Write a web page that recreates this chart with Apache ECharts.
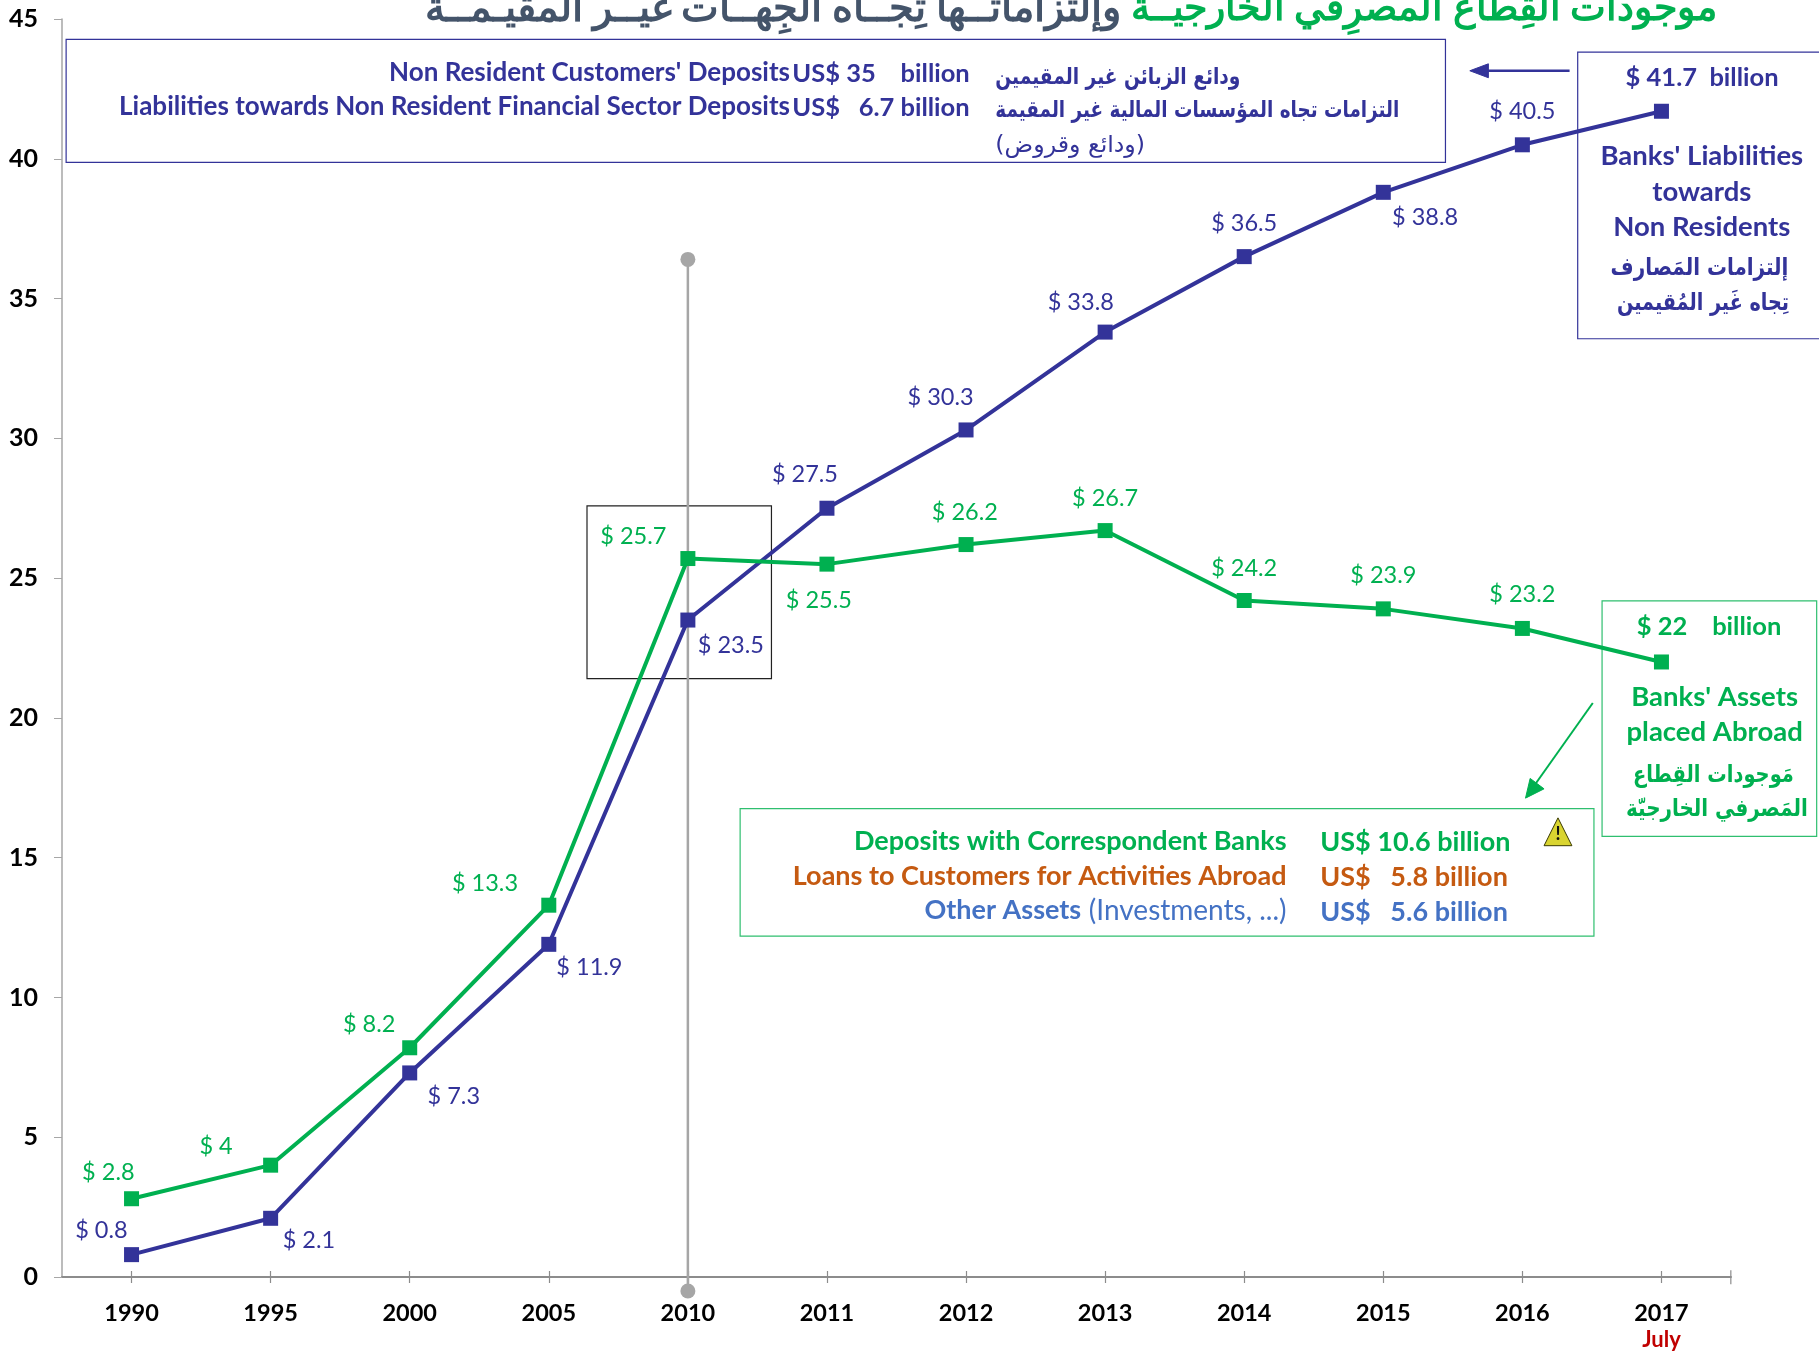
<!DOCTYPE html>
<html><head><meta charset="utf-8">
<style>html,body{margin:0;padding:0;background:#fff;overflow:hidden}#c{width:1819px;height:1351px}</style>
<script src="https://cdn.jsdelivr.net/npm/echarts@6/dist/echarts.min.js"></script></head>
<body><div id="c"></div>
<script>
const categories = ['1990','1995','2000','2005','2010','2011','2012','2013','2014','2015','2016','2017'];
const liabilities = [0.8,2.1,7.3,11.9,23.5,27.5,30.3,33.8,36.5,38.8,40.5,41.7];
const assets = [2.8,4,8.2,13.3,25.7,25.5,26.2,26.7,24.2,23.9,23.2,22];
const yTicks = {min:0,max:45,interval:5};
const markerSpan = [4,36.4,-0.5];
const liabOffsets = [[-26,-21],[33,19],[38,20],[35,20],[37,22],[-19,-29],[-22,-28],[-21,-26],[0,-29],[36,22],[0,-29],[35,-29]];
const assetOffsets = [[-20,-23],[-47,-16],[-35,-20],[-55,-19],[-47,-19],[-7,31],[-1,-28],[0,-28],[0,-28],[0,-29],[0,-29],[41,-30]];
const titleGreen = 'موجودات القِطاع المصرِفي الخارجيــة';
const titleDark = 'وإلتزاماتــها تِجــاه الجِهــات غيــر المقيـمــة';
const k = 1819/1568;
const NAVY='#333399', GREEN='#00b050', ORANGE='#c55a11', BLUE='#4472c4', DARK='#44546a';
const LAT='Lato, sans-serif', AR='"DejaVu Sans", sans-serif';
function T(x,y,text,fill,size,align,weight,fam,sx){
  return {type:'text',silent:true,x:x*k,y:(y+1)*k,scaleX:sx||1,originX:0,originY:0,style:{x:0,y:0,text,fill,font:(weight||'bold')+' '+size+'px '+(fam||LAT),textAlign:align||'left',textVerticalAlign:'middle'}};
}
function A(x,y,text,fill,size,align,weight,sx){ return T(x,y,text,fill,size,align,weight,AR,sx); }
function B(x0,y0,x1,y1,stroke){
  return {type:'rect',silent:true,shape:{x:x0*k,y:y0*k,width:(x1-x0)*k,height:(y1-y0)*k},style:{fill:'transparent',stroke,lineWidth:1.2}};
}
function L(x0,y0,x1,y1,stroke,w){
  return {type:'line',silent:true,shape:{x1:x0*k,y1:y0*k,x2:x1*k,y2:y1*k},style:{stroke,lineWidth:w||2}};
}
function P(pts,fill,stroke){
  return {type:'polygon',silent:true,shape:{points:pts.map(p=>[p[0]*k,p[1]*k])},style:{fill,stroke:stroke||fill,lineWidth:1}};
}
const graphics = [
  T(1480,6,titleGreen,GREEN,38,'right'),
  T(966,6,titleDark,DARK,39.5,'right'),
  B(57,34,1246,140,NAVY),
  B(1360,45,1580,292,NAVY),
  B(1381,518,1566,721,'#2fbf6f'),
  B(638,697,1374,807,'#2fbf6f'),
  B(506,436,665,585,'#222222'),
  T(681,62,"Non Resident Customers' Deposits",NAVY,26,'right'),
  T(683,63,'US$ 35    billion',NAVY,25.5),
  T(681,91,'Liabilities towards Non Resident Financial Sector Deposits',NAVY,26,'right'),
  T(683,92,'US$   6.7 billion',NAVY,25.5),
  A(858,66,'ودائع الزبائن غير المقيمين',NAVY,23,'left','bold',0.81),
  A(858,95,'التزامات تجاه المؤسسات المالية غير المقيمة',NAVY,23,'left','bold',0.80),
  A(858,125,'(ودائع وقروض)',NAVY,23,'left','normal',1.03),
  L(1353,61,1280,61,NAVY,2.5),
  P([[1267,61],[1283,55],[1283,67]],NAVY),
  T(1467,134,"Banks' Liabilities",NAVY,27.5,'center'),
  T(1467,165,'towards',NAVY,27.5,'center'),
  T(1467,195,'Non Residents',NAVY,27.5,'center'),
  A(1465,231,'إلتزامات المَصارف',NAVY,24,'center','bold',0.83),
  A(1468,261,'تِجاه غَير المُقيمين',NAVY,24,'center','bold',0.80),
  T(1478,600,"Banks' Assets",GREEN,27.5,'center'),
  T(1478,630,'placed Abroad',GREEN,27.5,'center'),
  A(1477,668,'مَوجودات القِطاع',GREEN,24,'center','bold',0.81),
  A(1480,697,'المَصرفي الخارجيّة',GREEN,24,'center','bold',0.83),
  L(1373,606,1322,678,GREEN,2),
  P([[1315,688],[1319,671],[1331,680]],GREEN),
  T(1109,724,'Deposits with Correspondent Banks',GREEN,27,'right'),
  T(1138,725,'US$ 10.6 billion',GREEN,27),
  T(1109,754,'Loans to Customers for Activities Abroad',ORANGE,27,'right'),
  T(1138,755,'US$   5.8 billion',ORANGE,27),
  T(1109,784,'(Investments, ...)',BLUE,28,'right','normal'),
  T(932,784,'Other Assets',BLUE,27,'right'),
  T(1138,785,'US$   5.6 billion',BLUE,27),
  P([[1343,705],[1355,729],[1331,729]],'#d9d430','#3a3a00'),
  T(1343,718,'!','#111',18,'center'),
  L(1492,1095,1492,1107,'#8c8c8c',1.2)
];
const labelStyle=(color,offs,lastSuffix)=>(v,i)=>({
  value:v,
  label:{show:true,position:'inside',offset:[offs[i][0]*k,offs[i][1]*k],color,fontFamily:LAT,fontSize:i===11?25.5:23.5,
    fontWeight:i===11?'bold':'normal',
    formatter:'$ '+v+(i===11?lastSuffix:'')}
});
const chart=echarts.init(document.getElementById('c'),null,{renderer:'canvas'});
chart.setOption({
  animation:false,
  backgroundColor:'#fff',
  grid:{left:62,right:88,top:19,bottom:74,containLabel:false},
  xAxis:[{type:'category',data:categories,boundaryGap:true,
    axisLine:{lineStyle:{color:'#8c8c8c',width:2}},
    axisTick:{show:true,alignWithLabel:true,interval:0,length:6,lineStyle:{color:'#8c8c8c',width:1.2}},
    axisLabel:{margin:22,interval:0,
      formatter:v=>v==='2017'?'{y|'+v+'}\n{j|July}':'{y|'+v+'}',
      rich:{y:{fontFamily:LAT,fontWeight:'bold',fontSize:23.5,color:'#000',lineHeight:28},
            j:{fontFamily:LAT,fontWeight:'bold',fontSize:22,color:'#c00000',lineHeight:25}}}},
    {type:'category',data:categories,position:'bottom',show:true,
    axisLine:{show:false},axisLabel:{show:false},
    axisTick:{show:true,inside:true,interval:0,alignWithLabel:true,length:6,lineStyle:{color:'#8c8c8c',width:1.2}}}],
  yAxis:{type:'value',min:yTicks.min,max:yTicks.max,interval:yTicks.interval,
    splitLine:{show:false},
    axisLine:{show:true,lineStyle:{color:'#a6a6a6',width:1.5}},
    axisTick:{show:true,length:8,lineStyle:{color:'#a6a6a6'}},
    axisLabel:{margin:24,fontFamily:LAT,fontWeight:'bold',fontSize:25,color:'#000',padding:[3,0,0,0]}},
  series:[
    {name:'Marker',type:'custom',z:3,silent:true,clip:false,
     data:[markerSpan],encode:{x:0,y:[1,2]},
     renderItem:(params,api)=>{
       const a=api.coord([api.value(0),api.value(1)]), b=api.coord([api.value(0),api.value(2)]);
       const s={fill:'#a6a6a6'};
       return {type:'group',children:[
         {type:'line',shape:{x1:a[0],y1:a[1],x2:b[0],y2:b[1]},style:{stroke:'#a6a6a6',lineWidth:2.5}},
         {type:'circle',shape:{cx:a[0],cy:a[1],r:7.5},style:s},
         {type:'circle',shape:{cx:b[0],cy:b[1],r:7.5},style:s}
       ]};
     }},
    {name:'Liabilities',type:'line',data:liabilities.map(labelStyle(NAVY,liabOffsets,'  billion')),z:4,
     symbol:'rect',symbolSize:15,showSymbol:true,clip:false,
     lineStyle:{color:NAVY,width:4},itemStyle:{color:NAVY}},
    {name:'Assets',type:'line',data:assets.map(labelStyle(GREEN,assetOffsets,'    billion')),z:5,
     symbol:'rect',symbolSize:15,showSymbol:true,clip:false,
     lineStyle:{color:GREEN,width:4},itemStyle:{color:GREEN}}
  ],
  graphic:{elements:graphics}
});
</script></body></html>
